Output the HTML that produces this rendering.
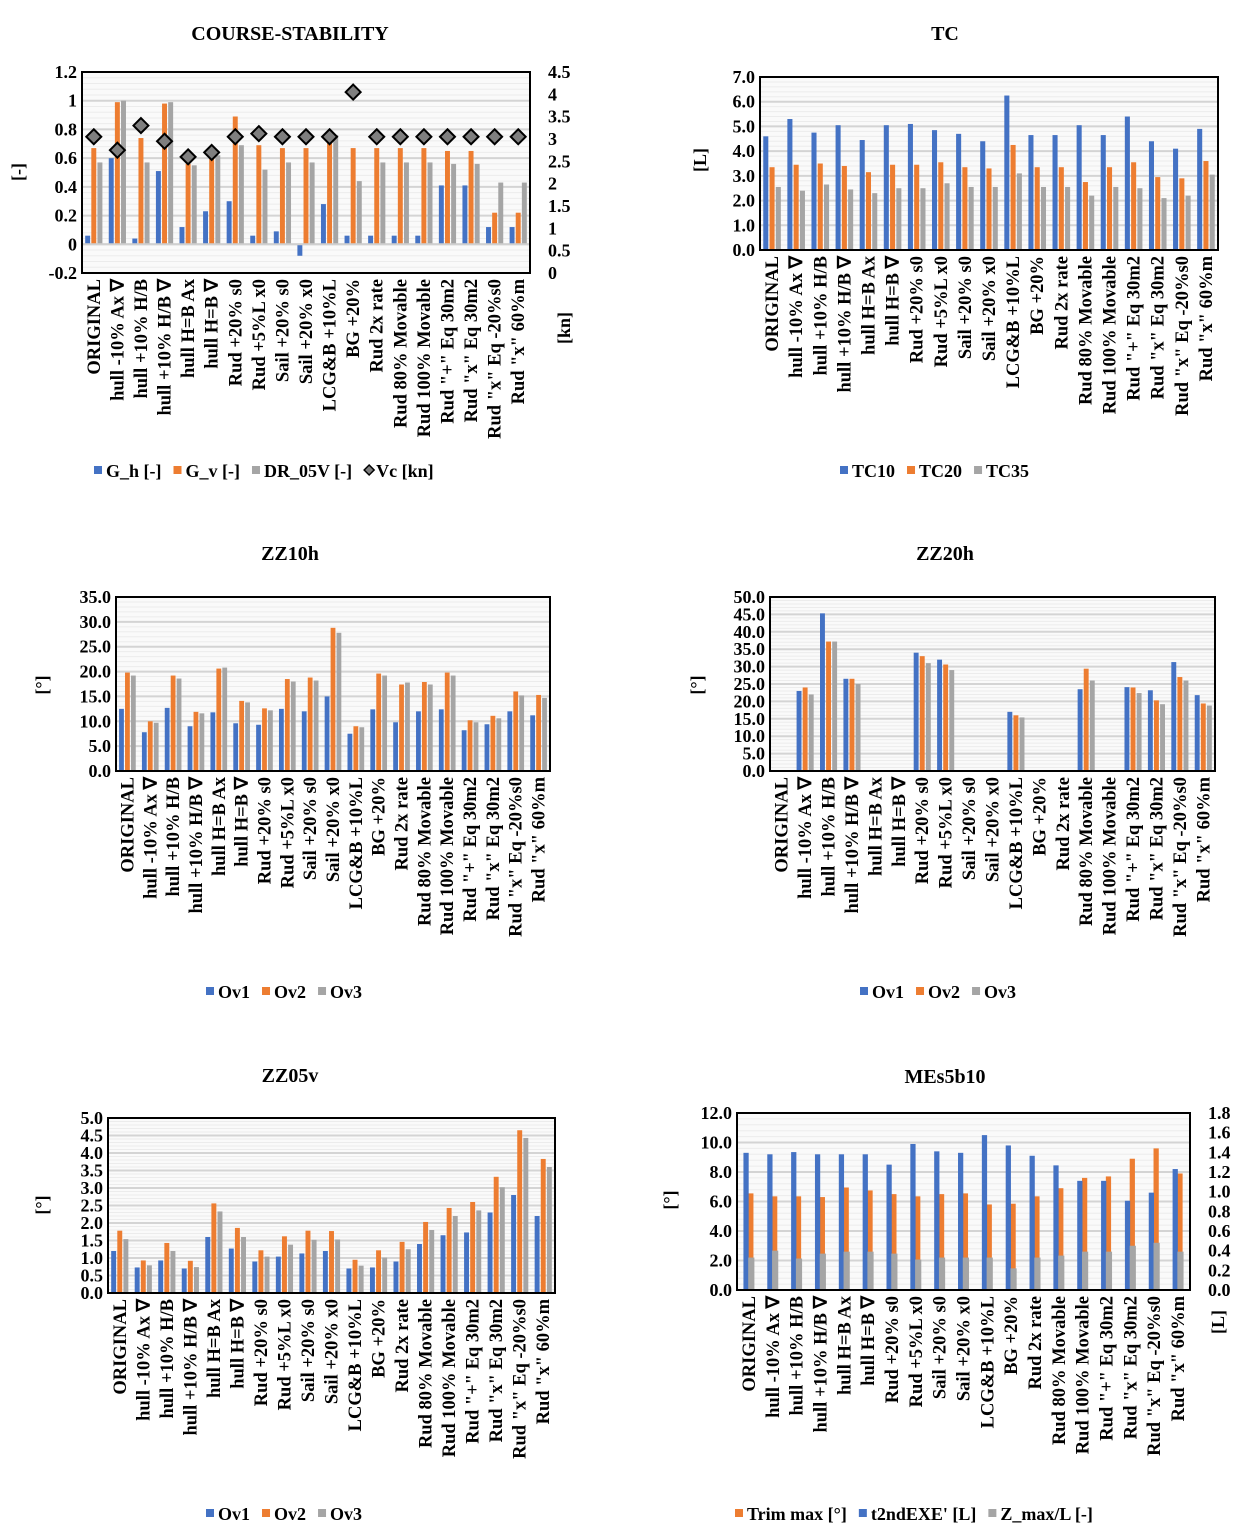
<!DOCTYPE html>
<html><head><meta charset="utf-8"><style>
body{margin:0;background:#fff}
svg{display:block;font-family:"Liberation Serif",serif;font-weight:bold}
</style></head><body>
<svg id="s" width="1240" height="1532" viewBox="0 0 1240 1532"></svg>
<script>
const cats=["ORIGINAL","hull -10% Ax ∇","hull +10% H/B","hull +10% H/B ∇","hull H=B Ax","hull H=B ∇","Rud +20% s0","Rud +5%L x0","Sail +20% s0","Sail +20% x0","LCG&B +10%L","BG +20%","Rud 2x rate","Rud 80% Movable","Rud 100% Movable","Rud \"+\" Eq 30m2","Rud \"x\" Eq 30m2","Rud \"x\" Eq -20%s0","Rud \"x\" 60%m"];
// COURSE-STABILITY
const csGh=[0.06,0.6,0.04,0.51,0.12,0.23,0.3,0.06,0.09,-0.08,0.28,0.06,0.06,0.06,0.06,0.41,0.41,0.12,0.12];
const csGv=[0.67,0.99,0.74,0.98,0.56,0.62,0.89,0.69,0.67,0.67,0.76,0.67,0.67,0.67,0.67,0.65,0.65,0.22,0.22];
const csDR=[0.57,1.0,0.57,0.99,0.55,0.62,0.69,0.52,0.57,0.57,0.76,0.44,0.57,0.57,0.57,0.56,0.56,0.43,0.43];
const csVc=[3.05,2.75,3.3,2.95,2.6,2.7,3.05,3.12,3.05,3.05,3.05,4.05,3.05,3.05,3.05,3.05,3.05,3.05,3.05];
const csTicks=["1.2","1","0.8","0.6","0.4","0.2","0","-0.2"];
const csRTicks=["4.5","4","3.5","3","2.5","2","1.5","1","0.5","0"];
// TC
const tc10=[4.6,5.3,4.75,5.05,4.45,5.05,5.1,4.85,4.7,4.4,6.25,4.65,4.65,5.05,4.65,5.4,4.4,4.1,4.9];
const tc20=[3.35,3.45,3.5,3.4,3.15,3.45,3.45,3.55,3.35,3.3,4.25,3.35,3.35,2.75,3.35,3.55,2.95,2.9,3.6];
const tc35=[2.55,2.4,2.65,2.45,2.3,2.5,2.5,2.7,2.55,2.55,3.1,2.55,2.55,2.2,2.55,2.5,2.1,2.2,3.05];
const tcTicks=["7.0","6.0","5.0","4.0","3.0","2.0","1.0","0.0"];
// ZZ10h
const z10a=[12.5,7.8,12.7,9,11.8,9.6,9.3,12.5,12,15,7.5,12.4,9.8,12,12.4,8.2,9.4,12,11.2];
const z10b=[19.8,10,19.2,11.9,20.6,14.1,12.6,18.5,18.8,28.8,9,19.6,17.4,17.9,19.8,10.2,11.1,16,15.3];
const z10c=[19.2,9.7,18.6,11.6,20.8,13.8,12.2,18,18.2,27.8,8.8,19.2,17.8,17.4,19.2,9.8,10.6,15.2,14.7];
const z10Ticks=["35.0","30.0","25.0","20.0","15.0","10.0","5.0","0.0"];
// ZZ20h
const z20a=[null,23,45.3,26.5,null,null,34,32,null,null,17,null,null,23.5,null,24.1,23.2,31.3,21.8];
const z20b=[null,24,37.2,26.5,null,null,33,30.6,null,null,16,null,null,29.4,null,24,20.3,27,19.4];
const z20c=[null,22,37.2,25,null,null,31,29,null,null,15.4,null,null,26,null,22.4,19.2,26,18.8];
const z20Ticks=["50.0","45.0","40.0","35.0","30.0","25.0","20.0","15.0","10.0","5.0","0.0"];
// ZZ05v
const z05a=[1.2,0.73,0.93,0.7,1.6,1.27,0.9,1.04,1.13,1.2,0.7,0.73,0.9,1.4,1.65,1.73,2.3,2.8,2.2];
const z05b=[1.78,0.93,1.43,0.92,2.56,1.86,1.22,1.62,1.78,1.77,0.95,1.22,1.46,2.03,2.43,2.6,3.32,4.65,3.83];
const z05c=[1.54,0.79,1.2,0.74,2.33,1.6,1.04,1.38,1.52,1.53,0.78,1.01,1.25,1.8,2.2,2.36,3.02,4.43,3.6];
const z05Ticks=["5.0","4.5","4.0","3.5","3.0","2.5","2.0","1.5","1.0","0.5","0.0"];
// MEs5b10
const meT2=[9.3,9.2,9.35,9.2,9.2,9.2,8.5,9.9,9.4,9.3,10.5,9.8,9.1,8.45,7.4,7.4,6.05,6.6,8.2];
const meTrim=[6.55,6.35,6.35,6.3,6.95,6.75,6.5,6.35,6.5,6.55,5.8,5.85,6.35,6.9,7.6,7.7,8.9,9.6,7.9];
const meZ=[0.33,0.4,0.32,0.37,0.39,0.39,0.37,0.31,0.33,0.33,0.33,0.22,0.33,0.35,0.39,0.39,0.45,0.48,0.39];
const meTicks=["12.0","10.0","8.0","6.0","4.0","2.0","0.0"];
const meRTicks=["1.8","1.6","1.4","1.2","1.0","0.8","0.6","0.4","0.2","0.0"];

const BLUE="#4472c4",ORANGE="#ed7d31",GREY="#a5a5a5";
const svg=document.getElementById('s');
const NS="http://www.w3.org/2000/svg";
function mk(tag,attrs,parent){const e=document.createElementNS(NS,tag);for(const k in attrs)e.setAttribute(k,attrs[k]);(parent||svg).appendChild(e);return e;}
function txt(str,attrs,parent){const e=mk('text',attrs,parent);e.textContent=str;return e;}

function chart(o){
  const g=mk('g',{});
  
  
  const {x0,x1,y0,y1,min,max}=o;
  const ys=v=>y1-(v-min)/(max-min)*(y1-y0);
  const yr=o.rmax!==undefined?(v=>y1-(v-o.rmin)/(o.rmax-o.rmin)*(y1-y0)):null;
  mk('rect',{x:x0,y:y0,width:x1-x0,height:y1-y0,fill:'#fafafa'},g);
  const nMaj=o.ticks.length-1, nMin=nMaj*5;
  for(let i=0;i<=nMin;i++){const y=y0+(y1-y0)*i/nMin;mk('line',{x1:x0,x2:x1,y1:y,y2:y,stroke:i%5?'#ececec':'#d4d4d4','stroke-width':i%5?1:2},g);}
  o.ticks.forEach((t,i)=>{const y=y0+(y1-y0)*i/nMaj;const e=txt(t,{x:x0-5,y:y+6,'text-anchor':'end','font-size':18},g);});
  if(o.rticks){const n=o.rticks.length-1;o.rticks.forEach((t,i)=>{const y=y0+(y1-y0)*i/n;const e=txt(t,{x:x1+18,y:y+6,'font-size':18},g);});}
  const cw=(x1-x0)/cats.length;
  const zeroY=ys(0);
  o.series.forEach(s=>{
    s.vals.forEach((v,i)=>{
      if(v===null)return;
      const sc=s.right?yr:ys;
      const cx=x0+cw*(i+0.5)+s.off*cw;
      const bw=s.w*cw;
      const yv=sc(v), yb=s.right?yr(0):zeroY;
      const r=mk('rect',{x:cx-bw/2,y:Math.min(yv,yb),width:bw,height:Math.abs(yb-yv),fill:s.color},g);
      
      
    });
  });
  if(o.diamonds){o.diamonds.forEach((v,i)=>{const cx=x0+cw*(i+0.5),cy=yr(v),d=7.5;
    const p=mk('polygon',{points:`${cx},${cy-d} ${cx+d},${cy} ${cx},${cy+d} ${cx-d},${cy}`,fill:'#7f7f7f',stroke:'#000','stroke-width':2},g);
    
    });}
  mk('line',{x1:x0,x2:x1,y1:zeroY,y2:zeroY,stroke:'#d0d0d0','stroke-width':2},g);
  mk('rect',{x:x0,y:y0,width:x1-x0,height:y1-y0,fill:'none',stroke:'#000','stroke-width':2},g);
  cats.forEach((c,i)=>{const cx=x0+cw*(i+0.5)+6;const ly=y1+6;
    const e=txt(c,{x:cx,y:ly,'text-anchor':'end','font-size':18.5,transform:`rotate(-90 ${cx} ${ly})`},g);
    
    });
  const t=txt(o.title,{x:o.tx,y:o.ty,'text-anchor':'middle','font-size':20},g);
  
  o.ytitles.forEach(a=>{const e=txt(a[0],{x:a[1],y:a[2],'text-anchor':'middle','font-size':18,transform:`rotate(-90 ${a[1]} ${a[2]})`},g);
    });
  let lx=o.lx;
  o.legend.forEach(L=>{
    if(L[1]==='d'){mk('polygon',{points:`${lx+5},${o.ly-12} ${lx+10},${o.ly-7} ${lx+5},${o.ly-2} ${lx},${o.ly-7}`,fill:'#7f7f7f',stroke:'#000','stroke-width':1.5},g);}
    else mk('rect',{x:lx,y:o.ly-11,width:8,height:8,fill:L[1]},g);
    const e=txt(L[0],{x:lx+12,y:o.ly,'font-size':18},g);
    
    lx+=12+e.getComputedTextLength()+12;
  });
}
const three=(a,b,c)=>[{vals:a,color:BLUE,off:-0.26,w:0.21,key:'s1'},{vals:b,color:ORANGE,off:0,w:0.21,key:'s2'},{vals:c,color:GREY,off:0.26,w:0.21,key:'s3'}];
chart({name:'course-stability-chart',x0:82,x1:530,y0:72,y1:273,min:-0.2,max:1.2,ticks:csTicks,rticks:csRTicks,rmin:0,rmax:4.5,
  series:three(csGh,csGv,csDR),diamonds:csVc,title:'COURSE-STABILITY',tx:290,ty:40,
  ytitles:[['[-]',24,172],['[kn]',570,328]],lx:94,ly:477,legend:[['G_h [-]',BLUE],['G_v [-]',ORANGE],['DR_05V [-]',GREY],['Vc [kn]','d']]});
chart({name:'tc-chart',x0:760,x1:1218,y0:77,y1:250,min:0,max:7,ticks:tcTicks,series:three(tc10,tc20,tc35),title:'TC',tx:945,ty:40,
  ytitles:[['[L]',706,160]],lx:840,ly:477,legend:[['TC10',BLUE],['TC20',ORANGE],['TC35',GREY]]});
chart({name:'zz10h-chart',x0:116,x1:550,y0:597,y1:771,min:0,max:35,ticks:z10Ticks,series:three(z10a,z10b,z10c),title:'ZZ10h',tx:290,ty:560,
  ytitles:[['[°]',48,685]],lx:206,ly:998,legend:[['Ov1',BLUE],['Ov2',ORANGE],['Ov3',GREY]]});
chart({name:'zz20h-chart',x0:770,x1:1215,y0:597,y1:771,min:0,max:50,ticks:z20Ticks,series:three(z20a,z20b,z20c),title:'ZZ20h',tx:945,ty:560,
  ytitles:[['[°]',703,685]],lx:860,ly:998,legend:[['Ov1',BLUE],['Ov2',ORANGE],['Ov3',GREY]]});
chart({name:'zz05v-chart',x0:108,x1:555,y0:1118,y1:1293,min:0,max:5,ticks:z05Ticks,series:three(z05a,z05b,z05c),title:'ZZ05v',tx:290,ty:1082,
  ytitles:[['[°]',48,1205]],lx:206,ly:1520,legend:[['Ov1',BLUE],['Ov2',ORANGE],['Ov3',GREY]]});
chart({name:'mes5b10-chart',x0:737,x1:1190,y0:1113,y1:1290,min:0,max:12,ticks:meTicks,rticks:meRTicks,rmin:0,rmax:1.8,
  series:[{vals:meTrim,color:ORANGE,off:0.08,w:0.22,key:'trim'},{vals:meT2,color:BLUE,off:-0.12,w:0.22,key:'t2ndexe'},{vals:meZ,color:GREY,off:0.1,w:0.26,key:'zmax',right:true}],
  title:'MEs5b10',tx:945,ty:1083,ytitles:[['[°]',676,1200],['[L]',1224,1322]],lx:735,ly:1520,
  legend:[['Trim max [°]',ORANGE],["t2ndEXE' [L]",BLUE],['Z_max/L [-]',GREY]]});
</script>
</body></html>
